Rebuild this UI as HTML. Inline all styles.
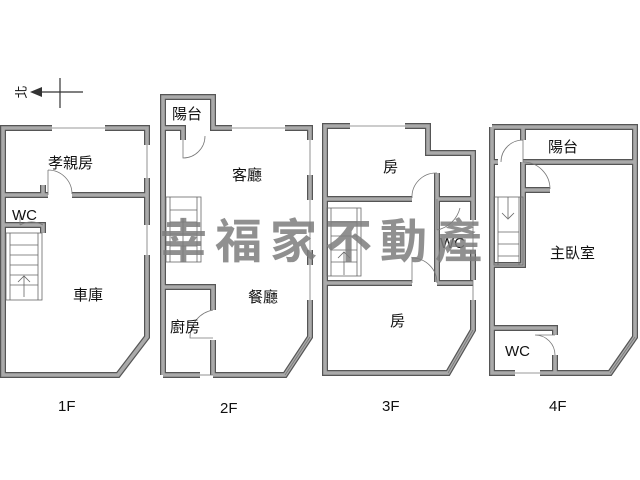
<!DOCTYPE html>
<html><head><meta charset="utf-8"><style>
html,body{margin:0;padding:0;background:#fff;width:640px;height:480px;overflow:hidden}
svg{display:block}
.w{fill:none;stroke:#555;stroke-width:6;stroke-linejoin:miter}
.wi{fill:none;stroke:#aaa;stroke-width:3.6;stroke-linejoin:miter}
.t{font-family:"Liberation Sans","Noto Sans CJK TC",sans-serif;font-size:15px;fill:#111}
.th{stroke:#666;stroke-width:0.8;fill:none}
</style></head><body>
<svg width="640" height="480" viewBox="0 0 640 480">
<defs>
<g id="walls">
<path d="M52,128 H3 V375 H118 L147,337 V255 M147,225 V178 M147,145 V128 H105"/>
<path d="M3,195 H48 M72,195 H147"/>
<path d="M3,225 H43 V233"/>
<path d="M43,185 V195"/>
<path d="M163,375 V128 V97 H213 V128 H232 M285,128 H310 V140 M310,175 V200 M310,250 V265 M310,300 V337 L285,375 H213 M200,375 H163"/>
<path d="M163,128 H183 V140"/>
<path d="M163,287 H213 V310 M213,340 V375"/>
<path d="M350,126 H325 V373 H448 L473,330 V300 M473,280 V250 M473,220 V153 H428 V126 H405"/>
<path d="M325,199 H412 M437,173 V282 M437,199 H473"/>
<path d="M325,283 H412 M437,283 H473"/>
<path d="M492,127 H635 V337 L610,373 H540 M515,373 H492 V127"/>
<path d="M523,127 V140 M523,162 H635"/>
<path d="M492,162 H498"/>
<path d="M523,162 V190 H550 M523,190 V265 H492"/>
<path d="M492,328 H555 V335 M555,355 V373"/>
</g>
</defs>
<use href="#walls" class="w"/>
<use href="#walls" class="wi"/>
<g stroke="#777" stroke-width="0.8" fill="none">
<line x1="52" y1="128" x2="105" y2="128"/><line x1="147" y1="145" x2="147" y2="178"/><line x1="147" y1="225" x2="147" y2="255"/>
<line x1="232" y1="128" x2="285" y2="128"/><line x1="310" y1="140" x2="310" y2="175"/><line x1="310" y1="200" x2="310" y2="250"/><line x1="310" y1="265" x2="310" y2="300"/>
<line x1="200" y1="375" x2="213" y2="375"/>
<line x1="350" y1="126" x2="405" y2="126"/><line x1="473" y1="220" x2="473" y2="250"/><line x1="473" y1="280" x2="473" y2="300"/>
<line x1="448" y1="373" x2="473" y2="330"/><line x1="610" y1="373" x2="635" y2="337"/><line x1="515" y1="373" x2="540" y2="373"/><line x1="285" y1="375" x2="310" y2="337"/>
<path d="M48,170 V195 M48,170 A24,24 0 0 1 72,194"/>
<path d="M20,225 V215 M43,225 A23,23 0 0 0 20,225"/>
<path d="M183,140 V158 A22,22 0 0 0 205,136"/>
<path d="M213,310 A28,28 0 0 0 190,338 H213"/>
<path d="M437,173 A24,24 0 0 0 412,198"/>
<path d="M437,283 A25,25 0 0 0 412,258 V283"/>
<path d="M437,199 V230 M437,230 A30,30 0 0 0 460,208"/>
<path d="M523,140 V162 M523,140 A22,22 0 0 0 501,162"/>
<path d="M523,162 A27,27 0 0 1 550,189"/>
<path d="M535,335 H555 M535,335 A20,20 0 0 1 555,355"/>
</g>
<g class="th">
<rect x="6" y="233" width="36" height="67"/><line x1="10" y1="233" x2="10" y2="300"/><line x1="38" y1="233" x2="38" y2="300"/>
<path d="M10,245H38M10,255H38M10,265H38M10,275H38M10,285H38M24,276V297M18,282L24,276L30,282"/>
<rect x="166" y="197" width="35" height="65"/><line x1="170" y1="197" x2="170" y2="262"/><line x1="197" y1="197" x2="197" y2="262"/>
<path d="M170,210H197M170,222H197M170,234H197M170,246H197M183,218V262"/>
<rect x="327" y="208" width="34" height="68"/><line x1="331" y1="208" x2="331" y2="276"/><line x1="357" y1="208" x2="357" y2="276"/>
<path d="M331,222H357M331,236H357M331,250H357M331,262H357M344,252V275M338,258L344,252L350,258"/>
<rect x="494" y="197" width="29" height="68"/><line x1="498" y1="197" x2="498" y2="265"/><line x1="519" y1="197" x2="519" y2="265"/>
<path d="M498,232H519M498,244H519M498,256H519M508,197V218M502,213L508,219L514,213"/>
</g>
<text class="t" x="48" y="168">孝親房</text>
<text class="t" x="12" y="220">WC</text>
<text class="t" x="73" y="300">車庫</text>
<text class="t" x="172" y="119">陽台</text>
<text class="t" x="232" y="180">客廳</text>
<text class="t" x="248" y="302">餐廳</text>
<text class="t" x="170" y="332">廚房</text>
<text class="t" x="383" y="172">房</text>
<text class="t" x="390" y="326">房</text>
<text class="t" x="440" y="248">WC</text>
<text class="t" x="548" y="152">陽台</text>
<text class="t" x="550" y="258">主臥室</text>
<text class="t" x="505" y="356">WC</text>
<text class="t" x="58" y="411">1F</text>
<text class="t" x="220" y="413">2F</text>
<text class="t" x="382" y="411">3F</text>
<text class="t" x="549" y="411">4F</text>
<text class="t" x="0" y="0" transform="translate(21,92) rotate(-90)" text-anchor="middle" dy="5" style="font-size:13px">北</text>
<line x1="40" y1="92" x2="83" y2="92" stroke="#333" stroke-width="1.2"/>
<polygon points="30,92 42,87 42,97" fill="#333"/>
<line x1="60" y1="78" x2="60" y2="108" stroke="#333" stroke-width="1.2"/>
<text x="160" y="258" style="font-family:'Noto Sans CJK TC','WenQuanYi Zen Hei',sans-serif;font-size:47px;font-weight:bold;letter-spacing:8px;fill:#7d7d7d;opacity:0.85">幸福家不動產</text>
</svg>
</body></html>
